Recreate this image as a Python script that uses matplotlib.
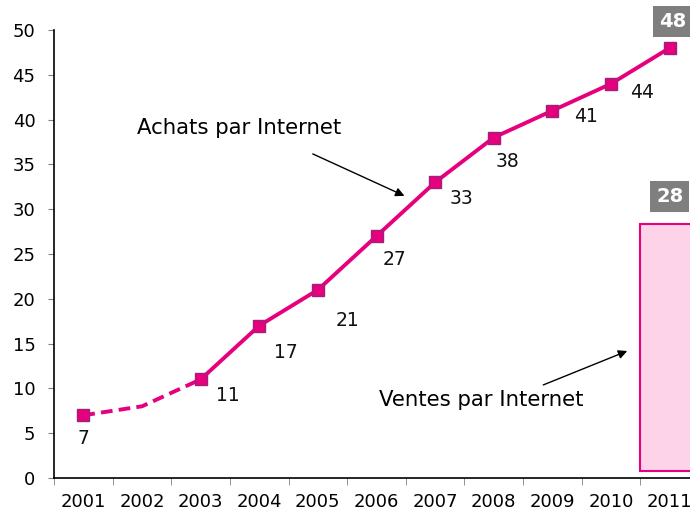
import matplotlib
matplotlib.use("Agg")
import matplotlib.pyplot as plt
import numpy as np

years = ["2001", "2002", "2003", "2004", "2005", "2006", "2007", "2008", "2009", "2010", "2011"]
achats_est = [7, 8, 11]            # 2001-2003 (dashed, estimated)
achats = [11, 17, 21, 27, 33, 38, 41, 44, 48]   # 2003-2011
achats_marked_2001 = 7
ventes_2011 = 28
ventes_base = 0.8

mag = "#E6007E"
edge = "#A0207A"

fig = plt.figure(figsize=(6.9, 5.16), dpi=100)
ax = fig.add_axes([54/690, 38/516, 645/690, 448/516])
ax.set_xlim(-0.5, 10.5)
ax.set_ylim(0, 50)

x = np.arange(len(years))

# bar
ax.bar(x[10], ventes_2011 + 0.3 - ventes_base, bottom=ventes_base, width=1.0, color="#FDD3EA",
       edgecolor=mag, linewidth=1.5, zorder=1, clip_on=False)

# dashed estimated part
ax.plot(x[0:3], achats_est, color=mag, lw=2.8, ls=(0, (3, 1.6)), zorder=2)
# solid part
ax.plot(x[2:], achats, color=mag, lw=2.8, zorder=3)
# markers
mx = np.concatenate([[x[0]], x[2:]])
my = [achats_marked_2001] + achats
ax.plot(mx, my, ls="none", marker="s", ms=8.5, mfc=mag, mec=edge, mew=1, zorder=4)

# data labels (offsets in points)
offsets = [(0, -17), (20, -11.5), (19, -19), (21, -22), (13, -17), (19, -12), (10, -17), (24, -4), (22, -6)]
for (xi, yi), off in zip(zip(mx[:-1], my[:-1]), offsets):
    ax.annotate(str(yi), (xi, yi), xytext=off, textcoords="offset points",
                ha="center", va="center", fontsize=13.5, color="#111111")

# boxed labels
box = dict(boxstyle="square,pad=0.3", fc="#7F7F7F", ec="none")
ax.annotate(str(achats[-1]), (x[10], achats[-1]), xytext=(2, 19), textcoords="offset points",
            ha="center", va="center", fontsize=14, fontweight="bold", color="white",
            bbox=box, annotation_clip=False)
ax.annotate(str(ventes_2011), (x[10], ventes_2011), xytext=(0, 22), textcoords="offset points",
            ha="center", va="center", fontsize=14, fontweight="bold", color="white",
            bbox=box, annotation_clip=False)

# annotations
ax.text(2.65, 39.1, "Achats par Internet", fontsize=15.3, ha="center", va="center")
ax.annotate("", xy=(5.52, 31.36), xytext=(3.87, 36.3),
            arrowprops=dict(arrowstyle="-|>", color="black", lw=1, mutation_scale=13))
ax.text(6.78, 8.7, "Ventes par Internet", fontsize=15.3, ha="center", va="center")
ax.annotate("", xy=(9.32, 14.29), xytext=(7.8, 10.27),
            arrowprops=dict(arrowstyle="-|>", color="black", lw=1, mutation_scale=13))

# axes styling
ax.spines["top"].set_visible(False)
ax.spines["right"].set_visible(False)
ax.spines["left"].set_linewidth(1.2)
ax.spines["bottom"].set_linewidth(1.2)
ax.set_yticks(np.arange(0, 51, 5))
ax.tick_params(axis="y", length=4.3, color="#808080", labelsize=13, pad=9)
ax.set_xticks(x)
ax.set_xticklabels(years, fontsize=13)
ax.tick_params(axis="x", length=0, pad=11)
ax.set_xticks(np.arange(-0.5, 10.6, 1), minor=True)
ax.tick_params(axis="x", which="minor", length=5, color="#808080")

fig.savefig("out.png", dpi=100)
